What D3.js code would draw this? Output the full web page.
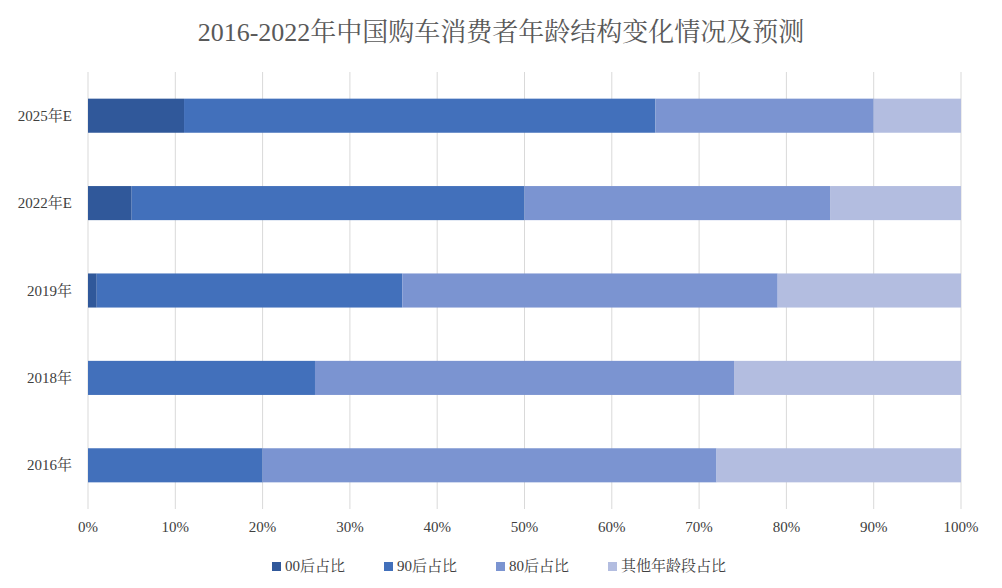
<!DOCTYPE html>
<html><head><meta charset="utf-8">
<script src="https://cdn.jsdelivr.net/npm/d3@7"></script>
<style>body{margin:0;background:#fff;}text{font-family:"Liberation Serif","Noto Serif CJK SC","Noto Sans CJK SC",serif;}</style>
</head><body><svg id="c" width="1002" height="588"></svg>
<script>
const categories = ["2025年E","2022年E","2019年","2018年","2016年"];
const seriesNames = ["00后占比","90后占比","80后占比","其他年龄段占比"];
const s00 = [11,5,1,0,0];
const s90 = [54,45,35,26,20];
const s80 = [25,35,43,48,52];
const sOther = [10,15,21,26,28];
const tickLabels = ["0%","10%","20%","30%","40%","50%","60%","70%","80%","90%","100%"];
const colors = ["#30589a","#4270bb","#7b94d1","#b3bde0"];

const svg = d3.select("#c");
const x = d3.scaleLinear().domain([0,100]).range([88,961]);
const y = d3.scaleBand().domain(categories).range([72,509]).paddingInner(0.61).paddingOuter(0.305);

svg.append("text").attr("x",501).attr("y",41).attr("text-anchor","middle").attr("font-size",26).attr("fill","#595959").text("2016-2022年中国购车消费者年龄结构变化情况及预测");

svg.append("g").selectAll("line").data(d3.range(0,101,10)).join("line")
 .attr("x1",d=>x(d)).attr("x2",d=>x(d)).attr("y1",72).attr("y2",509).attr("stroke","#d9d9d9").attr("stroke-width",1);

const rows = categories.map((c,i)=>({c, v:[s00[i],s90[i],s80[i],sOther[i]]}));
rows.forEach(r=>{
  let acc=0;
  r.v.forEach((v,k)=>{
    svg.append("rect").attr("x",x(acc)).attr("width",x(acc+v)-x(acc)).attr("y",y(r.c)).attr("height",y.bandwidth()).attr("fill",colors[k]);
    acc+=v;
  });
});

svg.append("g").selectAll("text").data(categories).join("text")
 .attr("x",72).attr("y",d=>y(d)+y.bandwidth()/2+5).attr("text-anchor","end").attr("font-size",15).attr("fill","#404040").text(d=>d);
svg.append("g").selectAll("text").data(tickLabels).join("text")
 .attr("x",(d,i)=>x(i*10)).attr("y",532).attr("text-anchor","middle").attr("font-size",15).attr("fill","#404040").text(d=>d);

const lx=[272,384,496,608];
seriesNames.forEach((n,i)=>{
  svg.append("rect").attr("x",lx[i]).attr("y",562).attr("width",9).attr("height",9).attr("fill",colors[i]);
  svg.append("text").attr("x",lx[i]+13).attr("y",571).attr("font-size",15).attr("fill","#404040").text(n);
});
</script></body></html>
